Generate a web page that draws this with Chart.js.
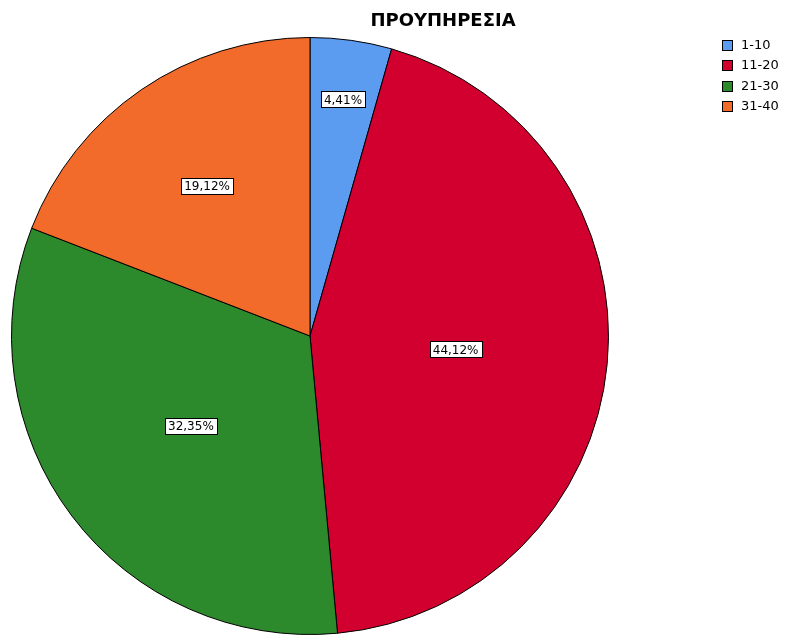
<!DOCTYPE html>
<html>
<head>
<meta charset="utf-8">
<script src="https://cdn.jsdelivr.net/npm/chart.js@4"></script>
<style>
  html, body { margin: 0; padding: 0; background: #fff; }
  #wrap { width: 787px; height: 635px; position: relative; }
</style>
</head>
<body>
<div id="wrap"><canvas id="chart" width="787" height="635"></canvas></div>
<script>
const chartTitle = 'ΠΡΟΥΠΗΡΕΣΙΑ';
const categories = ['1-10', '11-20', '21-30', '31-40'];
const percentages = [4.41, 44.12, 32.35, 19.12];
const sliceColors = ['#5b9cf1', '#d2002f', '#2d8a2c', '#f26b2b'];
// how far out (fraction of the radius) each value label sits
const labelRadius = [0.80, 0.49, 0.50, 0.61];

function fmt(v) {
    return v.toFixed(2).replace('.', ',') + '%';
}

const decorPlugin = {
    id: 'decor',
    afterDraw(chart) {
        const ctx = chart.ctx;
        const meta = chart.getDatasetMeta(0);

        // value labels in white boxes
        ctx.save();
        ctx.font = '12px "DejaVu Sans"';
        ctx.textAlign = 'center';
        ctx.textBaseline = 'middle';
        meta.data.forEach(function(arc, i) {
            const mid = (arc.startAngle + arc.endAngle) / 2;
            const r = arc.outerRadius * labelRadius[i];
            const x = arc.x + Math.cos(mid) * r;
            const y = arc.y + Math.sin(mid) * r;
            const txt = fmt(percentages[i]);
            const w = ctx.measureText(txt).width + 6;
            const h = 16;
            ctx.fillStyle = '#fff';
            ctx.fillRect(Math.round(x - w / 2) + 0.5, Math.round(y - h / 2) + 0.5, Math.round(w), h);
            ctx.strokeStyle = '#000';
            ctx.lineWidth = 1;
            ctx.strokeRect(Math.round(x - w / 2) + 0.5, Math.round(y - h / 2) + 0.5, Math.round(w), h);
            ctx.fillStyle = '#000';
            ctx.fillText(txt, x, y + 1);
        });
        ctx.restore();

        // title
        ctx.save();
        ctx.font = 'bold 18px "DejaVu Sans"';
        ctx.fillStyle = '#000';
        ctx.textAlign = 'center';
        ctx.textBaseline = 'alphabetic';
        ctx.fillText(chartTitle, 443, 26);
        ctx.restore();

        // legend
        ctx.save();
        ctx.font = '13px "DejaVu Sans"';
        ctx.textBaseline = 'middle';
        categories.forEach(function(c, i) {
            const y = 40 + i * 20.3;
            ctx.fillStyle = sliceColors[i];
            ctx.fillRect(722.5, Math.round(y) + 0.5, 10, 10);
            ctx.strokeStyle = '#000';
            ctx.lineWidth = 1;
            ctx.strokeRect(722.5, Math.round(y) + 0.5, 10, 10);
            ctx.fillStyle = '#000';
            ctx.fillText(c, 741, Math.round(y) + 6);
        });
        ctx.restore();
    }
};

const ctx = document.getElementById('chart').getContext('2d');
const pieChart = new Chart(ctx, {
    type: 'pie',
    data: {
        labels: categories,
        datasets: [{
            data: percentages,
            backgroundColor: sliceColors,
            borderColor: '#000',
            borderWidth: 1
        }]
    },
    options: {
        responsive: false,
        animation: false,
        layout: { padding: { left: 11, right: 178, top: 37, bottom: 0 } },
        plugins: {
            legend: { display: false },
            title: { display: false },
            tooltip: { enabled: false }
        }
    },
    plugins: [decorPlugin]
});
</script>
</body>
</html>
